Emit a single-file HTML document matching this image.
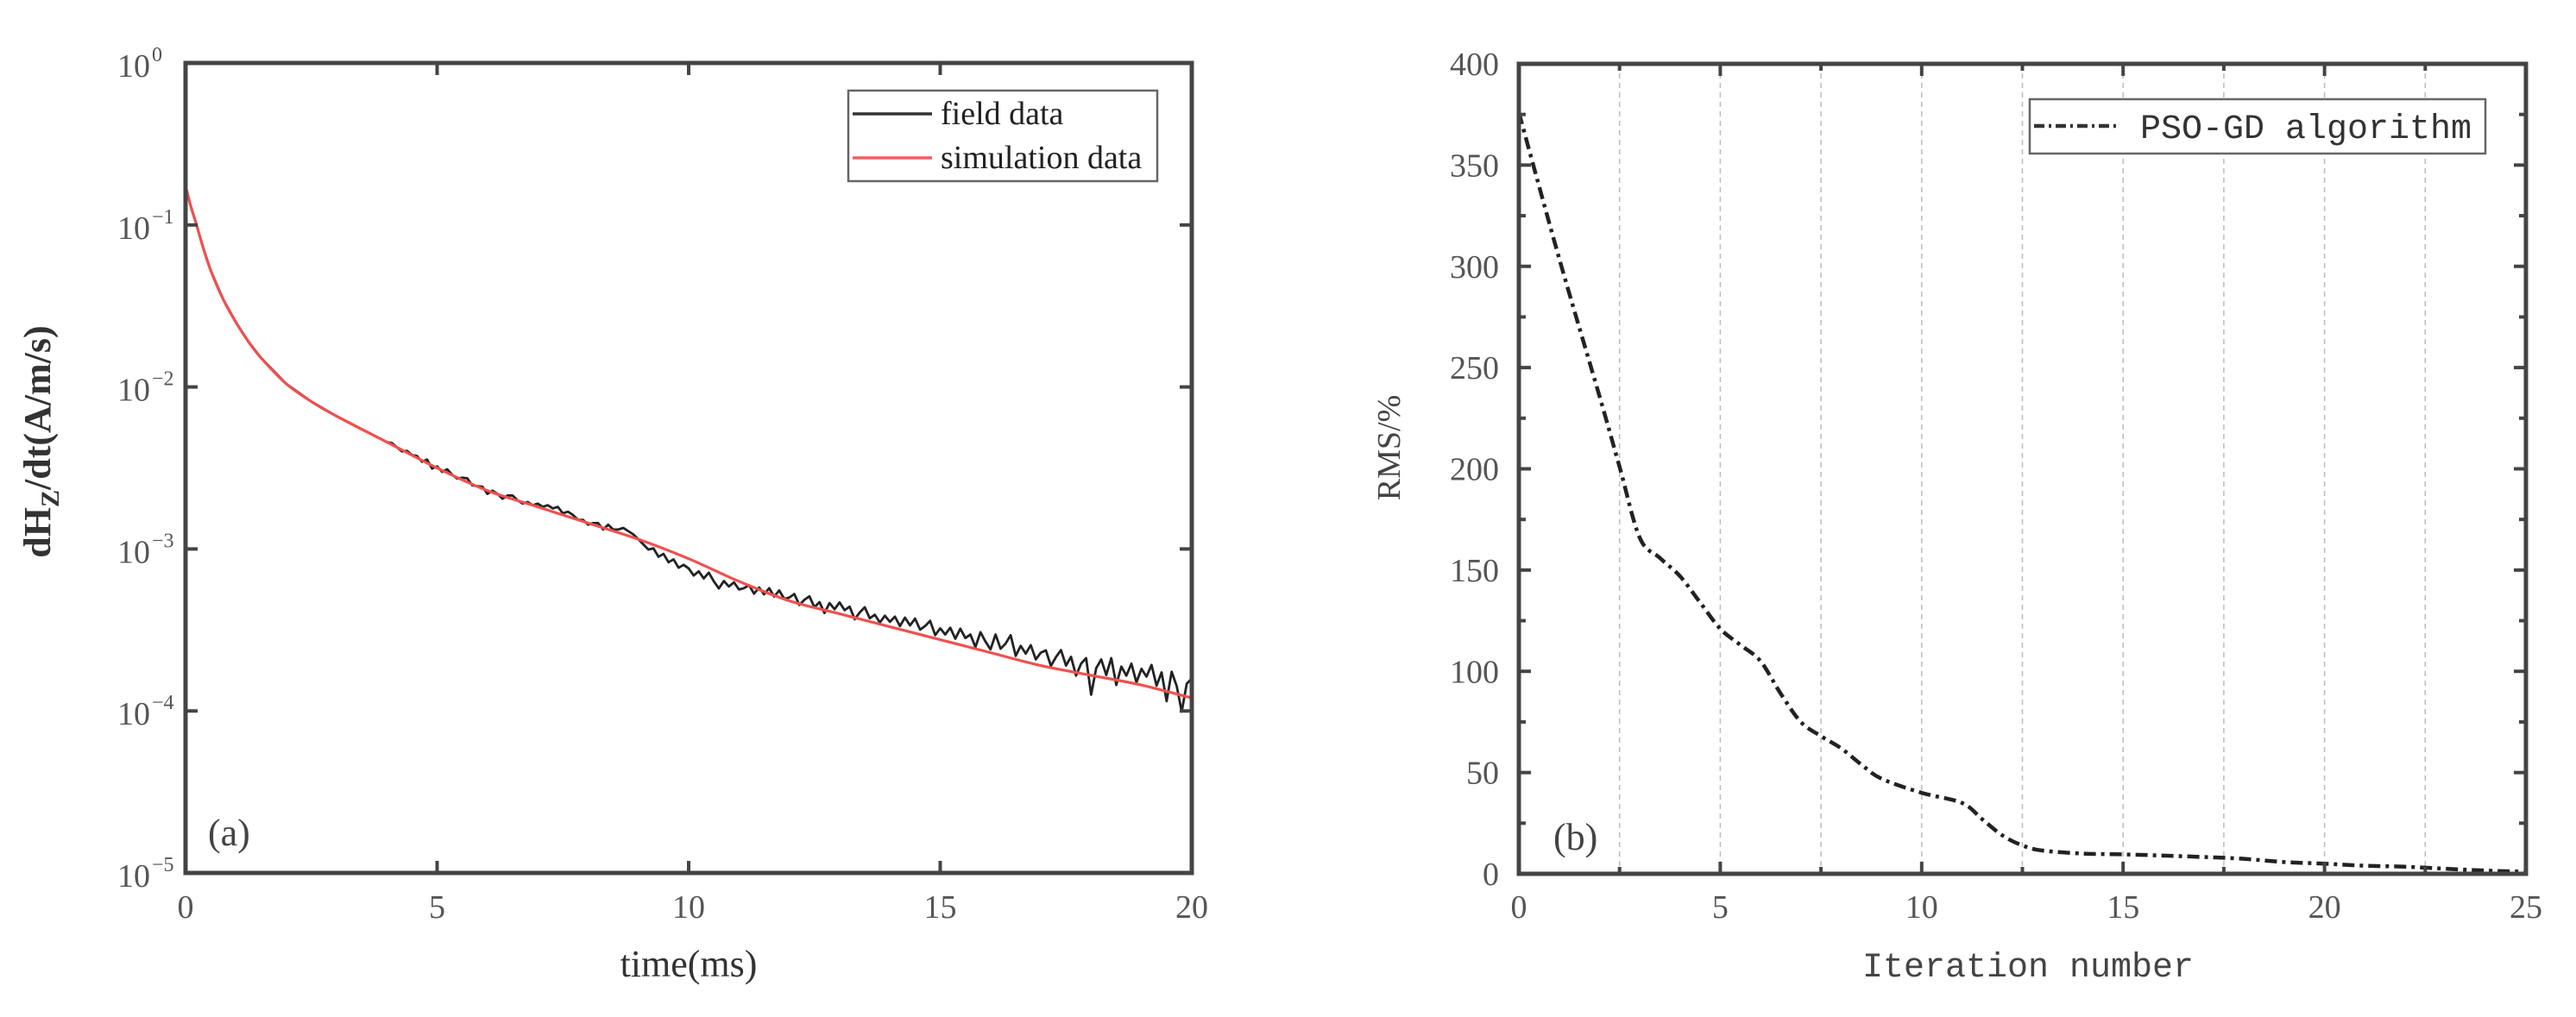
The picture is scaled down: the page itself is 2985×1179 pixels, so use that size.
<!DOCTYPE html>
<html><head><meta charset="utf-8"><style>
html,body{margin:0;padding:0;background:#fff;}
svg{display:block;}
</style></head><body>
<svg id="fig" width="2985" height="1179" viewBox="0 0 2985 1179" xmlns="http://www.w3.org/2000/svg">
<g id="chartA"></g>
<g id="chartB"></g>
</svg>
<script>
// ---- Chart (a) data ----
const simTimes = [0,0.1,0.2,0.35,0.5,0.75,1,1.25,1.5,2,2.5,3,4,5,6,7,8,9,10,11,12,13,14,15,16,17,18,19,20];
const simLog10 = [-0.76,-0.88,-0.98,-1.14,-1.28,-1.46,-1.6,-1.72,-1.82,-1.98,-2.09,-2.18,-2.34,-2.5,-2.64,-2.74,-2.84,-2.94,-3.06,-3.2,-3.32,-3.4,-3.48,-3.56,-3.64,-3.72,-3.78,-3.84,-3.92];
const fieldStart = 4.0;
const fieldStep = 0.1;
const fieldDev = [0,0.01,0,-0.01,0.01,0,0.01,-0.01,0.02,-0.02,0.01,
-0.01,0.02,0,-0.01,0.01,0.02,-0.01,0,0.01,-0.02,
0.01,0,-0.02,0.01,0.02,0,-0.01,0.01,0,0.02,
0.01,0.03,0.02,0.04,0.01,0.03,0.02,0,0.01,-0.01,
0.01,0.02,-0.01,0.03,0.01,0.02,0.04,0.03,0.02,0,
-0.02,-0.04,-0.02,-0.06,-0.03,-0.07,-0.04,-0.08,-0.05,-0.06,
-0.09,-0.05,-0.08,-0.03,-0.07,-0.1,-0.04,-0.06,-0.02,-0.05,
-0.03,0,-0.04,0.01,-0.02,0.03,-0.01,0.04,0,0.02,
0.05,-0.01,0.03,0.06,0,0.04,-0.02,0.05,0.02,0.07,
0.03,0.06,-0.01,0.04,0.08,0.02,0.05,0.01,0.06,0.03,
0.07,0.02,0.08,0.04,0.09,0.03,0.06,0.1,0.02,0.07,
0.04,0.09,0.03,0.1,0.05,0.08,0.01,0.11,0.06,0.02,
0.12,0.04,0.08,0.14,0.02,0.09,0.05,0.11,0.03,0.08,
0.1,0.01,0.07,0.12,0.03,0.09,-0.02,0.06,0.1,-0.12,
0.05,0.11,0.02,0.13,-0.03,0.09,0.04,0.12,0.01,0.1,
0.06,0.14,0.02,0.11,-0.06,0.13,0.05,-0.1,0.08,0.12];
const aXTicks = [0,5,10,15,20];
const aYExps = [0,-1,-2,-3,-4,-5];
const aLegend = ["field data","simulation data"];

// ---- Chart (b) data ----
const iters = [0,1,2,2.5,3,3.5,4,4.5,5,5.5,6,6.5,7,7.5,8,8.5,9,10,11,11.5,12,12.5,13,14,15,16,17,18,19,20,21,22,23,24,25];
const rmsVals = [376,304,236,201,166,156,147,134,121,113,105,89,75,68,62,54,47,40,35,27,19,14,11.5,10,9.6,9,8.3,7.4,5.8,5,4,3.5,2.5,1.6,1];
const bXTicks = [0,5,10,15,20,25];
const bYTicks = [0,50,100,150,200,250,300,350,400];

const NS="http://www.w3.org/2000/svg";
function mk(parent,tag,attrs,text){const e=document.createElementNS(NS,tag);for(const k in attrs)e.setAttribute(k,attrs[k]);if(text!==undefined)e.textContent=text;parent.appendChild(e);return e;}
function smooth(pts){let d=`M${pts[0][0]},${pts[0][1]}`;for(let i=0;i<pts.length-1;i++){const p0=pts[Math.max(0,i-1)],p1=pts[i],p2=pts[i+1],p3=pts[Math.min(pts.length-1,i+2)];const c1x=p1[0]+(p2[0]-p0[0])/6,c1y=p1[1]+(p2[1]-p0[1])/6,c2x=p2[0]-(p3[0]-p1[0])/6,c2y=p2[1]-(p3[1]-p1[1])/6;d+=` C${c1x},${c1y} ${c2x},${c2y} ${p2[0]},${p2[1]}`;}return d;}
function interp(xs,ys,x){for(let i=0;i<xs.length-1;i++){if(x<=xs[i+1]){const f=(x-xs[i])/(xs[i+1]-xs[i]);return ys[i]+f*(ys[i+1]-ys[i]);}}return ys[ys.length-1];}

// ===== Chart A =====
(function(){
const g=document.getElementById('chartA');
const L=215,R=1381,T=73,B=1012;
const xs=t=>L+(t-0)/(20-0)*(R-L);
const ys=lg=>T+(0-lg)/5*(B-T);
const fpts=[];
for(let i=0;i<simTimes.length&&simTimes[i]<fieldStart;i++)fpts.push([xs(simTimes[i]),ys(simLog10[i])]);
for(let i=0;i<fieldDev.length;i++){const t=fieldStart+i*fieldStep;fpts.push([xs(t),ys(interp(simTimes,simLog10,t)+fieldDev[i])]);}
const fl=mk(g,'polyline',{points:fpts.map(p=>p.join(',')).join(' '),fill:'none',stroke:'#222',"stroke-width":2.8,"stroke-linejoin":"round"});


const spts=simTimes.map((t,i)=>[xs(t),ys(simLog10[i])]);
const sl=mk(g,'path',{d:smooth(spts),fill:'none',stroke:'#f05050',"stroke-width":3.2});


const fr=mk(g,'rect',{x:L,y:T,width:R-L,height:B-T,fill:'none',stroke:'#444',"stroke-width":5});


aXTicks.forEach(t=>{const x=xs(t);
 mk(g,'line',{x1:x,y1:B,x2:x,y2:B-14,stroke:'#444',"stroke-width":4});
 mk(g,'line',{x1:x,y1:T,x2:x,y2:T+14,stroke:'#444',"stroke-width":4});
 const tx=mk(g,'text',{x:x,y:1064,"text-anchor":"middle","font-family":"Liberation Serif, serif","font-size":38,fill:'#555'},String(t));
 
 
});
aYExps.forEach(e=>{const y=ys(e);
 mk(g,'line',{x1:L,y1:y,x2:L+14,y2:y,stroke:'#444',"stroke-width":4});
 mk(g,'line',{x1:R,y1:y,x2:R-14,y2:y,stroke:'#444',"stroke-width":4});
 const tx=mk(g,'text',{x:174,y:y+16,"text-anchor":"end","font-family":"Liberation Serif, serif","font-size":38,fill:'#555'},'10');
 
 
 mk(g,'text',{x:176,y:y-2,"font-family":"Liberation Serif, serif","font-size":24,fill:'#555'},e===0?'0':'\u2212'+(-e));
});
const xt=mk(g,'text',{x:798,y:1132,"text-anchor":"middle","font-family":"Liberation Serif, serif","font-size":44,fill:'#333'},'time(ms)');


const yt=mk(g,'text',{x:0,y:0,transform:'translate(58,512) rotate(-90)',"text-anchor":"middle","font-family":"Liberation Serif, serif","font-size":44,"font-weight":"bold",fill:'#333'});


mk(yt,'tspan',{},'dH');mk(yt,'tspan',{"font-size":30,dy:10},'Z');mk(yt,'tspan',{dy:-10},'/dt(A/m/s)');
const pl=mk(g,'text',{x:241,y:980,"font-family":"Liberation Serif, serif","font-size":44,fill:'#444'},'(a)');


const lg=mk(g,'g',{});


mk(lg,'rect',{x:983,y:105,width:358,height:105,fill:'#fff',stroke:'#666',"stroke-width":2.5});
const cols=['#333','#f06060'];
aLegend.forEach((s,i)=>{const y=132+i*51;
 const en=mk(lg,'g',{});
 
 
 mk(en,'line',{x1:988,y1:y,x2:1080,y2:y,stroke:cols[i],"stroke-width":3.5});
 mk(en,'text',{x:1090,y:y+12,"font-family":"Liberation Serif, serif","font-size":38,fill:'#222'},s);
});
})();

// ===== Chart B =====
(function(){
const g=document.getElementById('chartB');
const L=1760,R=2927,T=74,B=1013;
const xs=v=>L+v/25*(R-L);
const ys=v=>B-v/400*(B-T);
for(let v=2.5;v<25;v+=2.5){const gl=mk(g,'line',{x1:xs(v),y1:T,x2:xs(v),y2:B,stroke:'#bbb',"stroke-width":1.5,"stroke-dasharray":"6,5"});
 
 }
const pts=iters.map((v,i)=>[xs(v),ys(rmsVals[i])]);
const ln=mk(g,'path',{d:smooth(pts),fill:'none',stroke:'#222',"stroke-width":4.5,"stroke-dasharray":"14,6,4,6"});


const fr=mk(g,'rect',{x:L,y:T,width:R-L,height:B-T,fill:'none',stroke:'#444',"stroke-width":5});


for(let v=0;v<=25;v+=2.5){const x=xs(v),len=(v%5===0)?14:8;
 mk(g,'line',{x1:x,y1:B,x2:x,y2:B-len,stroke:'#444',"stroke-width":4});
 mk(g,'line',{x1:x,y1:T,x2:x,y2:T+len,stroke:'#444',"stroke-width":4});}
for(let v=0;v<=400;v+=25){const y=ys(v),len=(v%50===0)?14:8;
 mk(g,'line',{x1:L,y1:y,x2:L+len,y2:y,stroke:'#444',"stroke-width":4});
 mk(g,'line',{x1:R,y1:y,x2:R-len,y2:y,stroke:'#444',"stroke-width":4});}
bXTicks.forEach(v=>{const tx=mk(g,'text',{x:xs(v),y:1064,"text-anchor":"middle","font-family":"Liberation Serif, serif","font-size":38,fill:'#555'},String(v));
 
 });
bYTicks.forEach(v=>{const tx=mk(g,'text',{x:1737,y:ys(v)+13,"text-anchor":"end","font-family":"Liberation Serif, serif","font-size":38,fill:'#555'},String(v));
 
 });
const xt=mk(g,'text',{x:2350,y:1132,"text-anchor":"middle","font-family":"Liberation Mono, monospace","font-size":40,fill:'#444'},'Iteration number');


const yt=mk(g,'text',{x:0,y:0,transform:'translate(1622,519) rotate(-90)',"text-anchor":"middle","font-family":"Liberation Serif, serif","font-size":38,fill:'#444'},'RMS/%');


const pl=mk(g,'text',{x:1800,y:985,"font-family":"Liberation Serif, serif","font-size":44,fill:'#444'},'(b)');


const lg=mk(g,'g',{});


mk(lg,'rect',{x:2352,y:115,width:528,height:63,fill:'#fff',stroke:'#666',"stroke-width":2.5});
mk(lg,'line',{x1:2357,y1:146,x2:2455,y2:146,stroke:'#333',"stroke-width":4.5,"stroke-dasharray":"12,5,3,5"});
const lt=mk(lg,'text',{x:2480,y:160,"font-family":"Liberation Mono, monospace","font-size":40,fill:'#333'},'PSO-GD algorithm');


})();
</script>
</body></html>
